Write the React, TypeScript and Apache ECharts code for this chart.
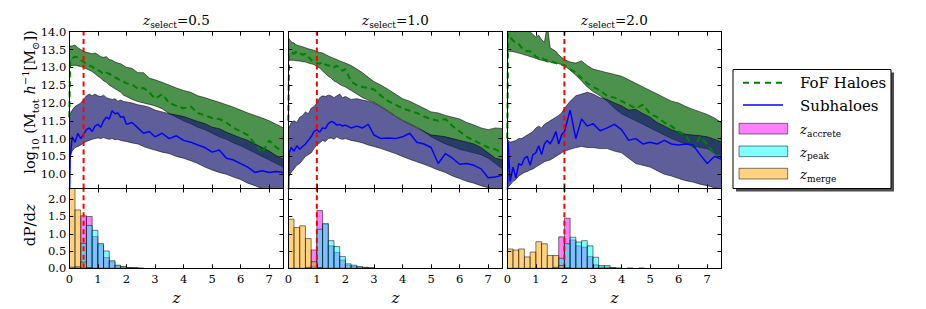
import React, { useEffect, useRef } from "react";
import * as echarts from "echarts";

// ---------- data ----------
const Z_GRID = [0, 0.03, 0.1, 0.2, 0.3, 0.4, 0.5, 0.6, 0.7, 0.8, 0.9, 1.0, 1.1, 1.2, 1.3, 1.4, 1.5, 1.6, 1.7, 1.8, 1.9, 2.0, 2.2, 2.4, 2.6, 2.8, 3.0, 3.25, 3.5, 3.75, 4.0, 4.25, 4.5, 4.75, 5.0, 5.25, 5.5, 5.75, 6.0, 6.25, 6.5, 6.75, 7.0, 7.25, 7.5];

// z_select = 0.5
const FOF_HI_05 = [13.62, 13.6, 13.6, 13.63, 13.55, 13.5, 13.45, 13.42, 13.4, 13.38, 13.4, 13.36, 13.3, 13.28, 13.3, 13.22, 13.2, 13.15, 13.12, 13.1, 13.05, 13.0, 12.97, 12.85, 12.85, 12.7, 12.65, 12.58, 12.5, 12.42, 12.35, 12.3, 12.2, 12.15, 12.08, 12.02, 11.95, 11.88, 11.8, 11.72, 11.65, 11.58, 11.5, 11.4, 11.3];
const FOF_LO_05 = [13.05, 13.05, 13.05, 13.06, 13.04, 13.02, 13.0, 12.96, 12.92, 12.88, 12.82, 12.75, 12.7, 12.62, 12.58, 12.5, 12.45, 12.4, 12.35, 12.3, 12.22, 12.18, 12.1, 12.04, 12.0, 11.96, 11.92, 11.84, 11.7, 11.6, 11.5, 11.42, 11.32, 11.25, 11.15, 11.05, 10.98, 10.88, 10.8, 10.7, 10.6, 10.5, 10.4, 10.3, 10.2];
const SUB_HI_05 = [11.65, 11.7, 11.8, 11.9, 11.95, 12.0, 12.1, 12.2, 12.25, 12.2, 12.25, 12.2, 12.18, 12.22, 12.15, 12.12, 12.1, 12.12, 12.05, 12.08, 12.04, 12.03, 12.0, 11.95, 11.92, 11.88, 11.8, 11.75, 11.7, 11.66, 11.62, 11.55, 11.48, 11.42, 11.32, 11.28, 11.18, 11.1, 11.02, 10.95, 10.85, 10.75, 10.65, 10.52, 10.42];
const SUB_LO_05 = [10.45, 10.5, 10.65, 10.75, 10.78, 10.82, 10.88, 10.92, 10.95, 10.98, 11.0, 11.02, 11.0, 11.03, 11.0, 10.98, 11.0, 10.97, 10.98, 10.95, 10.93, 10.92, 10.88, 10.85, 10.78, 10.72, 10.68, 10.62, 10.58, 10.5, 10.45, 10.38, 10.3, 10.2, 10.12, 10.05, 10.0, 9.92, 9.85, 9.75, 9.68, 9.6, 9.52, 9.46, 9.4];
const FOF_MED_05 = [11.6, 13.2, 13.25, 13.3, 13.28, 13.2, 13.15, 13.1, 13.05, 13.02, 12.95, 12.92, 12.88, 12.8, 12.85, 12.82, 12.78, 12.72, 12.68, 12.62, 12.6, 12.55, 12.52, 12.4, 12.42, 12.3, 12.12, 12.25, 12.0, 11.92, 11.85, 11.9, 11.72, 11.65, 11.58, 11.55, 11.45, 11.3, 11.2, 11.1, 10.85, 10.6, 10.95, 10.75, 10.62];
const SUB_MED_05 = [9.0, 10.45, 11.05, 10.9, 11.15, 11.0, 11.12, 11.25, 11.3, 11.2, 11.35, 11.4, 11.32, 11.5, 11.6, 11.55, 11.78, 11.7, 11.72, 11.6, 11.62, 11.4, 11.45, 11.3, 11.15, 11.2, 11.05, 11.15, 11.0, 11.08, 10.95, 10.9, 10.82, 10.75, 10.62, 10.68, 10.45, 10.4, 10.3, 10.2, 10.05, 10.1, 10.05, 10.08, 10.05];

// z_select = 1.0
const FOF_HI_10 = [13.81, 13.8, 13.72, 13.68, 13.62, 13.6, 13.58, 13.55, 13.52, 13.5, 13.48, 13.44, 13.42, 13.4, 13.36, 13.32, 13.28, 13.25, 13.22, 13.18, 13.15, 13.12, 13.05, 12.95, 12.85, 12.72, 12.6, 12.5, 12.38, 12.25, 12.12, 12.05, 11.95, 11.85, 11.75, 11.72, 11.65, 11.6, 11.55, 11.45, 11.38, 11.3, 11.25, 11.3, 11.28];
const FOF_LO_10 = [13.2, 13.2, 13.2, 13.2, 13.18, 13.18, 13.16, 13.15, 13.12, 13.1, 13.08, 13.02, 12.98, 12.9, 12.82, 12.75, 12.7, 12.62, 12.58, 12.52, 12.48, 12.45, 12.35, 12.25, 12.15, 12.08, 12.02, 11.9, 11.78, 11.64, 11.52, 11.42, 11.32, 11.2, 11.05, 10.95, 10.85, 10.78, 10.7, 10.65, 10.6, 10.55, 10.45, 10.3, 10.15];
const SUB_HI_10 = [11.4, 11.3, 11.45, 11.5, 11.45, 11.6, 11.65, 11.75, 11.7, 11.85, 11.9, 12.0, 12.15, 12.2, 12.18, 12.22, 12.2, 12.15, 12.2, 12.25, 12.15, 12.18, 12.1, 12.12, 12.08, 12.05, 12.0, 11.88, 11.76, 11.62, 11.5, 11.4, 11.3, 11.2, 11.1, 11.08, 11.05, 11.0, 10.95, 10.9, 10.85, 10.75, 10.6, 10.45, 10.4];
const SUB_LO_10 = [10.0, 9.95, 10.05, 10.15, 10.25, 10.3, 10.4, 10.5, 10.55, 10.6, 10.72, 10.82, 10.88, 10.95, 10.92, 11.0, 11.02, 10.98, 11.05, 11.0, 10.98, 11.0, 10.95, 10.92, 10.88, 10.82, 10.78, 10.72, 10.65, 10.58, 10.5, 10.42, 10.35, 10.28, 10.2, 10.12, 10.05, 9.95, 9.88, 9.8, 9.75, 9.68, 9.62, 9.58, 9.5];
const FOF_MED_10 = [11.5, 13.35, 13.42, 13.38, 13.45, 13.4, 13.35, 13.38, 13.3, 13.2, 13.18, 13.12, 13.1, 13.15, 13.08, 13.05, 13.05, 13.0, 13.05, 12.95, 12.9, 12.95, 12.6, 12.5, 12.45, 12.42, 12.38, 12.2, 12.05, 11.95, 11.85, 11.78, 11.72, 11.62, 11.55, 11.5, 11.55, 11.35, 11.2, 11.05, 10.95, 10.85, 10.75, 10.7, 10.6];
const SUB_MED_10 = [9.0, 10.6, 10.75, 10.65, 10.8, 10.7, 10.78, 10.85, 10.95, 11.05, 11.2, 11.25, 11.18, 11.3, 11.28, 11.42, 11.48, 11.45, 11.38, 11.4, 11.35, 11.38, 11.3, 11.35, 11.3, 11.4, 11.1, 11.0, 11.02, 11.0, 11.05, 11.15, 10.9, 10.85, 10.75, 10.3, 10.58, 10.45, 10.28, 10.3, 10.25, 10.15, 9.9, 9.92, 9.98];

// z_select = 2.0
const FOF_HI_20 = [14.3, 14.3, 14.25, 14.2, 14.2, 14.15, 14.1, 14.1, 14.05, 14.0, 13.92, 13.85, 13.9, 13.78, 13.7, 14.2, 13.55, 13.5, 13.45, 13.35, 13.28, 13.22, 13.15, 13.12, 13.18, 13.05, 12.95, 12.9, 12.85, 12.8, 12.75, 12.65, 12.55, 12.45, 12.35, 12.25, 12.15, 12.05, 12.0, 11.9, 11.82, 11.75, 11.68, 11.58, 11.45];
const FOF_LO_20 = [13.45, 13.45, 13.45, 13.44, 13.42, 13.4, 13.38, 13.35, 13.33, 13.3, 13.28, 13.25, 13.22, 13.2, 13.18, 13.15, 13.15, 13.12, 13.12, 13.1, 13.08, 13.05, 12.92, 12.78, 12.62, 12.45, 12.32, 12.2, 12.05, 11.85, 11.7, 11.6, 11.5, 11.4, 11.3, 11.2, 11.1, 11.0, 10.92, 10.85, 10.8, 10.75, 10.72, 10.6, 10.45];
const SUB_HI_20 = [10.9, 10.95, 10.9, 10.92, 10.95, 11.0, 11.0, 11.05, 11.1, 11.15, 11.2, 11.3, 11.35, 11.3, 11.4, 11.45, 11.5, 11.55, 11.6, 11.65, 11.72, 11.85, 12.05, 12.2, 12.25, 12.3, 12.25, 12.15, 12.1, 12.0, 11.92, 11.8, 11.82, 11.7, 11.6, 11.45, 11.35, 11.25, 11.18, 11.12, 11.1, 11.08, 11.05, 10.98, 10.9];
const SUB_LO_20 = [9.6, 9.65, 9.7, 9.8, 9.85, 9.95, 10.0, 10.05, 10.08, 10.12, 10.15, 10.2, 10.25, 10.3, 10.35, 10.38, 10.4, 10.45, 10.5, 10.55, 10.6, 10.65, 10.7, 10.75, 10.78, 10.75, 10.75, 10.72, 10.72, 10.65, 10.6, 10.45, 10.3, 10.25, 10.2, 10.1, 10.0, 9.95, 9.88, 9.82, 9.78, 9.72, 9.68, 9.62, 9.58];
const FOF_MED_20 = [11.0, 13.95, 13.85, 13.75, 13.7, 13.65, 13.55, 13.5, 13.45, 13.45, 13.4, 13.3, 13.25, 13.28, 13.22, 13.2, 13.18, 13.15, 13.12, 13.1, 13.08, 13.05, 12.95, 12.85, 12.7, 12.55, 12.45, 12.35, 12.2, 12.15, 12.05, 11.95, 11.85, 11.95, 11.7, 11.6, 11.45, 11.35, 11.2, 11.1, 10.75, 11.05, 10.85, 10.55, 10.5];
const SUB_MED_20 = [9.0, 10.9, 9.8, 10.2, 9.9, 10.3, 10.25, 10.45, 10.5, 10.25, 10.55, 10.6, 10.8, 10.55, 10.85, 10.95, 10.85, 11.0, 11.2, 10.85, 11.1, 11.2, 11.8, 11.0, 11.55, 11.35, 11.42, 11.22, 11.3, 11.4, 11.25, 10.95, 11.0, 10.85, 10.9, 10.85, 10.95, 10.85, 10.82, 10.85, 10.82, 10.55, 10.3, 10.5, 10.42];

// histograms (dP/dz), bins of width 0.2 starting at these z
const HIST_BIN_START = [0, 0.2, 0.4, 0.6, 0.8, 1.0, 1.2, 1.4, 1.6, 1.8, 2.0, 2.2, 2.4, 2.6, 2.8, 3.0, 3.2, 3.4, 3.6, 3.8, 4.0, 4.2, 4.4, 4.6, 4.8];
const HIST_BIN_WIDTH = 0.2;
const ACC_05 = [0.03, 0.05, 1.52, 1.5, 0.92, 0.68, 0.31, 0.19, 0.07, 0.04, 0.02, 0.01, 0, 0, 0, 0, 0, 0, 0, 0, 0, 0, 0, 0, 0];
const PEAK_05 = [0.03, 0.04, 0.72, 1.24, 1.1, 0.72, 0.5, 0.22, 0.09, 0.05, 0.02, 0.02, 0.01, 0, 0, 0, 0, 0, 0, 0, 0, 0, 0, 0, 0];
const MERGE_05 = [2.6, 1.69, 0.18, 0.02, 0, 0, 0, 0, 0, 0, 0, 0, 0, 0, 0, 0, 0, 0, 0, 0, 0, 0, 0, 0, 0];
const ACC_10 = [0, 0, 0, 0.03, 0.53, 1.67, 1.27, 0.65, 0.46, 0.24, 0.09, 0.06, 0.03, 0.02, 0.01, 0, 0, 0, 0, 0, 0, 0, 0, 0, 0];
const PEAK_10 = [0, 0, 0, 0.02, 0.06, 1.13, 1.3, 0.8, 0.63, 0.34, 0.13, 0.09, 0.05, 0.03, 0.01, 0, 0, 0, 0, 0, 0, 0, 0, 0, 0];
const MERGE_10 = [1.42, 1.18, 1.23, 0.86, 0.19, 0.02, 0, 0, 0, 0, 0, 0, 0, 0, 0, 0, 0, 0, 0, 0, 0, 0, 0, 0, 0];
const ACC_20 = [0, 0, 0, 0, 0, 0, 0, 0, 0.03, 0.91, 1.45, 0.82, 0.65, 0.61, 0.34, 0.1, 0.04, 0.04, 0.01, 0, 0, 0, 0, 0, 0];
const PEAK_20 = [0, 0, 0, 0, 0, 0, 0, 0, 0.02, 0.29, 0.71, 0.9, 0.76, 0.8, 0.65, 0.32, 0.08, 0.08, 0.02, 0.01, 0, 0.01, 0, 0.01, 0];
const MERGE_20 = [0.56, 0.53, 0.56, 0.33, 0.47, 0.77, 0.71, 0.37, 0.37, 0.08, 0.01, 0, 0, 0, 0, 0, 0, 0, 0, 0, 0, 0, 0, 0, 0];

const Z_SELECT = [0.5, 1.0, 2.0];
const TITLES = ["0.5", "1.0", "2.0"];
const X_TICKS = [0, 1, 2, 3, 4, 5, 6, 7];
const Y_TICKS_TOP = [10.0, 10.5, 11.0, 11.5, 12.0, 12.5, 13.0, 13.5, 14.0];
const Y_TICKS_BOTTOM = [0.0, 0.5, 1.0, 1.5, 2.0];
const X_RANGE = [0, 7.5];
const Y_RANGE_TOP = [9.6, 14.0];
const Y_RANGE_BOTTOM = [0, 2.31];

const PANELS = [
  { fofHi: FOF_HI_05, fofLo: FOF_LO_05, subHi: SUB_HI_05, subLo: SUB_LO_05, fofMed: FOF_MED_05, subMed: SUB_MED_05, acc: ACC_05, peak: PEAK_05, merge: MERGE_05 },
  { fofHi: FOF_HI_10, fofLo: FOF_LO_10, subHi: SUB_HI_10, subLo: SUB_LO_10, fofMed: FOF_MED_10, subMed: SUB_MED_10, acc: ACC_10, peak: PEAK_10, merge: MERGE_10 },
  { fofHi: FOF_HI_20, fofLo: FOF_LO_20, subHi: SUB_HI_20, subLo: SUB_LO_20, fofMed: FOF_MED_20, subMed: SUB_MED_20, acc: ACC_20, peak: PEAK_20, merge: MERGE_20 },
];

// ---------- style ----------
const FONT = "DejaVu Serif";
const C_FOF_FILL = "rgba(0,100,0,0.7)";
const C_SUB_FILL = "rgba(25,25,112,0.7)";
const C_EDGE = "rgba(0,0,0,0.7)";
const C_FOF_LINE = "#008000";
const C_SUB_LINE = "#0000ff";
const C_ACC = "rgba(255,0,255,0.5)";
const C_PEAK = "rgba(0,255,255,0.5)";
const C_MERGE = "rgba(255,165,0,0.5)";
const C_HIST_EDGE = "rgba(0,0,0,0.5)";

const GRID_LEFT = [69.3, 288.3, 507.3];
const GRID_W = 214.2;
const TOP_Y = 31.7;
const MID_Y = 188.5;
const BOT_Y = 268.3;

function clipOf(params: any) {
  const cs = params.coordSys;
  return { type: "rect", shape: { x: cs.x, y: cs.y, width: cs.width, height: cs.height } };
}

function bandSeries(g: number, lo: number[], hi: number[], fill: string) {
  return {
    type: "custom",
    xAxisIndex: 2 * g,
    yAxisIndex: 2 * g,
    silent: true,
    z: 2,
    data: Z_GRID.map((z, i) => [z, lo[i], hi[i]]),
    encode: { x: 0, y: [1, 2] },
    renderItem: (params: any, api: any) => {
      if (params.dataIndex !== 0) return null;
      const n = Math.min(Z_GRID.length, lo.length, hi.length);
      const pts: number[][] = [];
      for (let i = 0; i < n; i++) pts.push(api.coord([Z_GRID[i], hi[i]]));
      for (let i = n - 1; i >= 0; i--) pts.push(api.coord([Z_GRID[i], lo[i]]));
      return {
        type: "polygon",
        shape: { points: pts },
        style: { fill, stroke: C_EDGE, lineWidth: 0.8 },
        clipPath: clipOf(params),
      };
    },
  };
}

function histSeries(g: number, h: number[], fill: string) {
  return {
    type: "custom",
    xAxisIndex: 2 * g,
    yAxisIndex: 2 * g,
    silent: true,
    z: 2,
    data: HIST_BIN_START.map((x, i) => [x, h[i] ?? 0]),
    encode: { x: 0, y: 1 },
    renderItem: (params: any, api: any) => {
      const x0 = api.value(0);
      const v = api.value(1);
      if (!v) return null;
      const p0 = api.coord([x0, v]);
      const p1 = api.coord([x0 + HIST_BIN_WIDTH, 0]);
      return {
        type: "rect",
        shape: { x: p0[0], y: p0[1], width: p1[0] - p0[0], height: p1[1] - p0[1] },
        style: { fill, stroke: C_HIST_EDGE, lineWidth: 1 },
        clipPath: clipOf(params),
      };
    },
  };
}

function lineSeries(g: number, data: number[][], color: string, width: number, type: any, z = 3) {
  return {
    type: "line",
    xAxisIndex: 2 * g,
    yAxisIndex: 2 * g,
    silent: true,
    z,
    data,
    showSymbol: false,
    symbol: "none",
    clip: true,
    lineStyle: { color, width, type },
  };
}

function xAxisPair(g: number, showLabels: boolean) {
  const base = {
    type: "value",
    gridIndex: g,
    min: X_RANGE[0],
    max: X_RANGE[1],
    z: 10,
    splitLine: { show: false },
    axisLine: { show: true, onZero: false, lineStyle: { color: "#000", width: 1 } },
    axisTick: { show: true, inside: true, length: 4, customValues: X_TICKS, lineStyle: { color: "#000" } },
  };
  return [
    {
      ...base,
      position: "bottom",
      axisLabel: {
        show: showLabels, customValues: X_TICKS, margin: 5, fontFamily: FONT, fontSize: 11.5, color: "#000",
        formatter: (v: number) => String(v),
      },
    },
    { ...base, position: "top", axisLabel: { show: false } },
  ];
}

function yAxisPair(g: number, range: number[], ticks: number[], showLabels: boolean) {
  const base = {
    type: "value",
    gridIndex: g,
    min: range[0],
    max: range[1],
    z: 10,
    splitLine: { show: false },
    axisLine: { show: true, onZero: false, lineStyle: { color: "#000", width: 1 } },
    axisTick: { show: true, inside: true, length: 4, customValues: ticks, lineStyle: { color: "#000" } },
  };
  return [
    {
      ...base,
      position: "left",
      axisLabel: {
        show: showLabels, customValues: ticks, margin: 3, fontFamily: FONT, fontSize: 11.5, color: "#000",
        formatter: (v: number) => v.toFixed(1),
      },
    },
    { ...base, position: "right", axisLabel: { show: false } },
  ];
}

function buildOption() {
  const grid: any[] = [];
  const xAxis: any[] = [];
  const yAxis: any[] = [];
  const series: any[] = [];

  for (let c = 0; c < 3; c++) {
    grid.push({ left: GRID_LEFT[c], top: TOP_Y, width: GRID_W, height: MID_Y - TOP_Y, containLabel: false });
  }
  for (let c = 0; c < 3; c++) {
    grid.push({ left: GRID_LEFT[c], top: MID_Y, width: GRID_W, height: BOT_Y - MID_Y, containLabel: false });
  }
  for (let g = 0; g < 6; g++) {
    const bottom = g >= 3;
    const c = g % 3;
    xAxis.push(...xAxisPair(g, bottom));
    yAxis.push(
      ...yAxisPair(g, bottom ? Y_RANGE_BOTTOM : Y_RANGE_TOP, bottom ? Y_TICKS_BOTTOM : Y_TICKS_TOP, c === 0)
    );
  }

  PANELS.forEach((p, c) => {
    const gTop = c;
    const gBot = c + 3;
    const zs = Z_SELECT[c];
    series.push(bandSeries(gTop, p.fofLo, p.fofHi, C_FOF_FILL));
    series.push(bandSeries(gTop, p.subLo, p.subHi, C_SUB_FILL));
    series.push(lineSeries(gTop, Z_GRID.map((z, i) => [z, p.fofMed[i]]), C_FOF_LINE, 2, [6, 4]));
    series.push(lineSeries(gTop, Z_GRID.map((z, i) => [z, p.subMed[i]]), C_SUB_LINE, 1.5, "solid"));
    series.push(lineSeries(gTop, [[zs, Y_RANGE_TOP[0]], [zs, Y_RANGE_TOP[1]]], "#ff0000", 2, [5, 3.5], 6));

    series.push(histSeries(gBot, p.acc, C_ACC));
    series.push(histSeries(gBot, p.peak, C_PEAK));
    series.push(histSeries(gBot, p.merge, C_MERGE));
    series.push(lineSeries(gBot, [[zs, Y_RANGE_BOTTOM[0]], [zs, Y_RANGE_BOTTOM[1]]], "#ff0000", 2, [5, 3.5], 6));
  });

  const richMain = (size: number, lh: number) => ({
    n: { fontFamily: FONT, fontSize: size, lineHeight: lh, color: "#000" },
    i: { fontFamily: FONT, fontSize: size, lineHeight: lh, fontStyle: "italic", color: "#000" },
  });

  const graphic: any[] = [];
  TITLES.forEach((t, c) => {
    graphic.push({
      type: "text",
      x: GRID_LEFT[c] + GRID_W / 2,
      y: 20,
      style: {
        text: `{i|z}{s|select}{n|=${t}}`,
        align: "center",
        verticalAlign: "middle",
        rich: {
          ...richMain(13.5, 18),
          s: { fontFamily: FONT, fontSize: 9, lineHeight: 9, verticalAlign: "bottom", color: "#000" },
        },
      },
    });
    graphic.push({
      type: "text",
      x: GRID_LEFT[c] + GRID_W / 2,
      y: 298,
      style: {
        text: "{i|z}",
        align: "center",
        verticalAlign: "middle",
        rich: richMain(15, 18),
      },
    });
  });

  graphic.push({
    type: "text",
    x: 30,
    y: 102,
    rotation: Math.PI / 2,
    style: {
      text: "{n|log}{s|10}{n| (M}{s|tot}{i| h}{p|−1}{n|[M}{s|⊙}{n|])}",
      align: "center",
      verticalAlign: "middle",
      rich: {
        ...richMain(14.5, 20),
        s: { fontFamily: FONT, fontSize: 10, lineHeight: 10, verticalAlign: "bottom", color: "#000" },
        p: { fontFamily: FONT, fontSize: 10, lineHeight: 14, verticalAlign: "top", color: "#000" },
      },
    },
  });
  graphic.push({
    type: "text",
    x: 30,
    y: 225,
    rotation: Math.PI / 2,
    style: {
      text: "{n|dP/d}{i|z}",
      align: "center",
      verticalAlign: "middle",
      rich: richMain(15, 20),
    },
  });

  // legend
  const LX = 733, LY = 69.5, LW = 158, LH = 119;
  const subRich = {
    i: { fontFamily: FONT, fontSize: 13.5, lineHeight: 18, fontStyle: "italic", color: "#444" },
    s: { fontFamily: FONT, fontSize: 9, lineHeight: 9, verticalAlign: "bottom", color: "#555" },
  };
  const bigRich = { n: { fontFamily: FONT, fontSize: 15, lineHeight: 18, color: "#000" } };
  graphic.push({
    type: "group",
    children: [
      { type: "rect", shape: { x: LX + 3, y: LY + 3, width: LW, height: LH }, style: { fill: "#4d4d4d" } },
      { type: "rect", shape: { x: LX, y: LY, width: LW, height: LH }, style: { fill: "#fff", stroke: "#000", lineWidth: 1 } },
      { type: "line", shape: { x1: 743, y1: 82.7, x2: 783, y2: 82.7 }, style: { stroke: C_FOF_LINE, lineWidth: 2, lineDash: [6, 5] } },
      { type: "text", x: 800, y: 83, style: { text: "{n|FoF Haloes}", verticalAlign: "middle", rich: bigRich } },
      { type: "line", shape: { x1: 743, y1: 105, x2: 783, y2: 105 }, style: { stroke: C_SUB_LINE, lineWidth: 1.5 } },
      { type: "text", x: 800, y: 105.5, style: { text: "{n|Subhaloes}", verticalAlign: "middle", rich: bigRich } },
      { type: "rect", shape: { x: 739, y: 123.3, width: 48.7, height: 10.7 }, style: { fill: C_ACC, stroke: C_HIST_EDGE, lineWidth: 1 } },
      { type: "text", x: 800, y: 129, style: { text: "{i|z}{s|accrete}", verticalAlign: "middle", rich: subRich } },
      { type: "rect", shape: { x: 739, y: 146, width: 48.7, height: 10.7 }, style: { fill: C_PEAK, stroke: C_HIST_EDGE, lineWidth: 1 } },
      { type: "text", x: 800, y: 151.5, style: { text: "{i|z}{s|peak}", verticalAlign: "middle", rich: subRich } },
      { type: "rect", shape: { x: 739, y: 168.3, width: 48.7, height: 10.7 }, style: { fill: C_MERGE, stroke: C_HIST_EDGE, lineWidth: 1 } },
      { type: "text", x: 800, y: 174, style: { text: "{i|z}{s|merge}", verticalAlign: "middle", rich: subRich } },
    ],
  });

  return {
    animation: false,
    backgroundColor: "#fff",
    grid,
    xAxis,
    yAxis,
    series,
    graphic,
  };
}

export default function App() {
  const ref = useRef<HTMLDivElement>(null);
  useEffect(() => {
    if (!ref.current) return;
    const chart = echarts.init(ref.current, null, { renderer: "svg" });
    chart.setOption(buildOption() as any);
    return () => chart.dispose();
  }, []);
  return (
    <div
      ref={ref}
      style={{ position: "fixed", left: 0, top: 0, width: 926, height: 309, background: "#fff" }}
    />
  );
}
